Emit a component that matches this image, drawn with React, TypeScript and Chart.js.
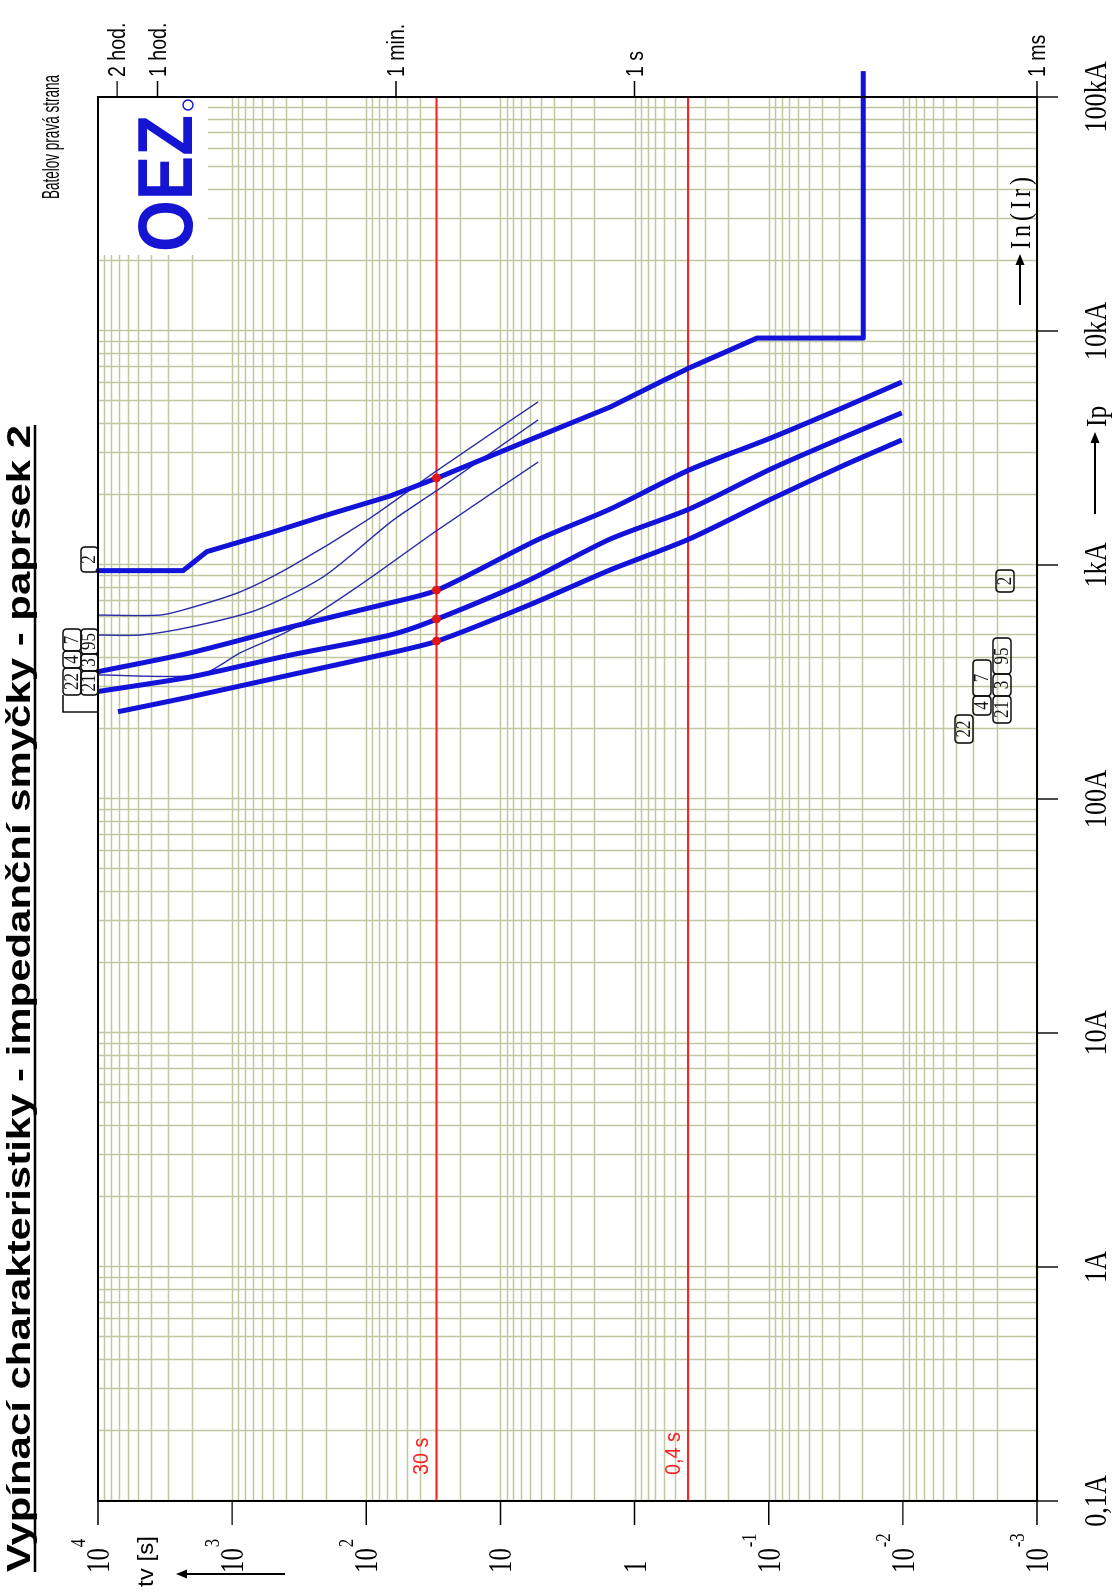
import React, { useEffect, useRef } from "react";
import { Chart, registerables } from "chart.js";

Chart.register(...registerables);

const CANVAS_W = 1595;
const CANVAS_H = 1112;

const titleText = "Vypínací charakteristiky - impedanční smyčky - paprsek 2";
const subtitleText = "Batelov pravá strana";
const logoText = "OEZ";
const timeAxisName = "tv [s]";
const peakLabel = "Ip";
const nominalLabel = "In(Ir)";

const currentMin = 0.1;
const currentMax = 100000;
const timeMin = 0.001;
const timeMax = 10000;

const currentTickValues = [0.1, 1, 10, 100, 1000, 10000, 100000];
const currentTickLabels = ["0,1A", "1A", "10A", "100A", "1kA", "10kA", "100kA"];

const timeTickValues = [10000, 1000, 100, 10, 1, 0.1, 0.01, 0.001];
const timeTickMantissa = ["10", "10", "10", "10", "1", "10", "10", "10"];
const timeTickExponent = ["4", "3", "2", "", "", "-1", "-2", "-3"];

const timeMarkValues = [7200, 3600, 60, 1, 0.001];
const timeMarkLabels = ["2 hod.", "1 hod.", "1 min.", "1 s", "1 ms"];

const limitTimes = [30, 0.4];
const limitLabels = ["30 s", "0,4 s"];

// curve "2" (thick, with short-time / instantaneous part)
const curve2Current = [946, 946, 990, 1050, 1140, 1371, 1652, 1972, 2355, 3420, 4730, 6050, 6950, 9330, 9330, 129000];
const curve2Time = [10000, 2323, 2100, 1850, 1545, 521, 186, 66.4, 29.6, 6.1, 1.52, 0.644, 0.392, 0.122, 0.0197, 0.0197];

// thin curves
const thin1Current = [611, 611, 655, 767, 980, 1556, 2547, 4980];
const thin1Time = [10000, 3452, 2061, 873, 370, 98.6, 29.3, 5.24];
const thin2Current = [502, 502, 543, 643, 889, 1556, 2094, 4170];
const thin2Time = [10000, 4864, 2061, 652, 210, 63, 29.3, 5.24];
const thin3Current = [339, 339, 421, 527, 805, 1413, 2754];
const thin3Time = [10000, 1734, 873, 370, 117, 29.3, 5.24];

// thick curves
const thickBCurrent = [350, 421, 543, 689, 781, 1291, 1734, 2547, 3524, 4730, 6050];
const thickBTime = [10000, 2061, 370, 66.4, 29.6, 5.14, 1.52, 0.392, 0.0925, 0.0273, 0.0102];
const thickCCurrent = [288, 332, 412, 502, 588, 863, 1291, 1734, 2600, 3524, 4467];
const thickCTime = [10000, 2061, 370, 66.4, 29.6, 6.1, 1.52, 0.392, 0.0925, 0.0273, 0.0102];
const thickDCurrent = [236, 273, 339, 421, 473, 675, 953, 1291, 1932, 2673, 3420];
const thickDTime = [7100, 2061, 370, 66.4, 29.6, 6.1, 1.52, 0.392, 0.0925, 0.0273, 0.0102];

// red markers where the thick curves meet the 30 s limit
const markerCurrent = [2355, 781, 588, 473];
const markerTime = [30, 30, 30, 30];

const GRID = "#bfc8a0";
const BLUE = "#1212d8";
const THIN = "#2b2ba6";
const RED = "#ff2020";

function pts(xs: number[], ys: number[]) {
  return xs.map((v, i) => ({ x: v, y: ys[i] }));
}

function txt(
  ctx: CanvasRenderingContext2D,
  s: string,
  x: number,
  y: number,
  font: string,
  color: string,
  align: "left" | "center" | "right" = "left",
  hs = 1,
  targetW?: number,
  spacing = 0
) {
  ctx.save();
  ctx.font = font;
  ctx.fillStyle = color;
  ctx.textBaseline = "alphabetic";
  ctx.textAlign = "left";
  if (spacing) (ctx as any).letterSpacing = spacing + "px";
  const w = ctx.measureText(s).width;
  const sc = targetW ? targetW / w : hs;
  const sw = w * sc;
  let x0 = x;
  if (align === "center") x0 = x - sw / 2;
  else if (align === "right") x0 = x - sw;
  ctx.translate(x0, y);
  ctx.scale(sc, 1);
  ctx.fillText(s, 0, 0);
  ctx.restore();
  return sw;
}

function arrow(ctx: CanvasRenderingContext2D, x1: number, y1: number, x2: number, y2: number) {
  const ang = Math.atan2(y2 - y1, x2 - x1);
  const L = 11, Hh = 4.5;
  ctx.save();
  ctx.strokeStyle = "#000";
  ctx.fillStyle = "#000";
  ctx.lineWidth = 2;
  ctx.beginPath();
  ctx.moveTo(x1, y1);
  ctx.lineTo(x2 - Math.cos(ang) * L * 0.8, y2 - Math.sin(ang) * L * 0.8);
  ctx.stroke();
  ctx.beginPath();
  ctx.moveTo(x2, y2);
  ctx.lineTo(x2 - Math.cos(ang) * L - Math.sin(ang) * Hh, y2 - Math.sin(ang) * L + Math.cos(ang) * Hh);
  ctx.lineTo(x2 - Math.cos(ang) * L + Math.sin(ang) * Hh, y2 - Math.sin(ang) * L - Math.cos(ang) * Hh);
  ctx.closePath();
  ctx.fill();
  ctx.restore();
}

function box(ctx: CanvasRenderingContext2D, s: string, x: number, y: number, w: number, h: number) {
  ctx.save();
  ctx.strokeStyle = "#111";
  ctx.lineWidth = 1.6;
  const r = 4;
  ctx.beginPath();
  ctx.moveTo(x + r, y);
  ctx.lineTo(x + w - r, y);
  ctx.quadraticCurveTo(x + w, y, x + w, y + r);
  ctx.lineTo(x + w, y + h - r);
  ctx.quadraticCurveTo(x + w, y + h, x + w - r, y + h);
  ctx.lineTo(x + r, y + h);
  ctx.quadraticCurveTo(x, y + h, x, y + h - r);
  ctx.lineTo(x, y + r);
  ctx.quadraticCurveTo(x, y, x + r, y);
  ctx.stroke();
  ctx.restore();
  txt(ctx, s, x + w / 2, y + h - 3, "20px 'Liberation Serif'", "#111", "center", 0.85);
}

const decorPlugin = {
  id: "oezDecor",
  beforeDatasetsDraw(chart: any) {
    const { ctx, chartArea: a, scales } = chart;
    const xs = scales.x, ys = scales.y;
    ctx.save();
    ctx.fillStyle = "#ffffff";
    ctx.fillRect(a.left, a.top, a.right - a.left, a.bottom - a.top);
    ctx.strokeStyle = GRID;
    ctx.lineWidth = 1.5;
    ctx.beginPath();
    for (let e = -1; e < 5; e++) {
      for (let m = 1; m < 10; m++) {
        const p = Math.round(xs.getPixelForValue(m * Math.pow(10, e))) + 0.5;
        ctx.moveTo(p, a.top);
        ctx.lineTo(p, a.bottom);
      }
    }
    for (let e = -3; e < 4; e++) {
      for (let m = 1; m < 10; m++) {
        const p = Math.round(ys.getPixelForValue(m * Math.pow(10, e))) + 0.5;
        ctx.moveTo(a.left, p);
        ctx.lineTo(a.right, p);
      }
    }
    ctx.stroke();
    // white field for the logo
    ctx.fillStyle = "#ffffff";
    ctx.fillRect(1340, a.top, a.right - 1340, 110);
    ctx.restore();
  },
  afterDatasetsDraw(chart: any) {
    const { ctx, chartArea: a, scales } = chart;
    const xs = scales.x, ys = scales.y;
    ctx.save();
    // frame
    ctx.strokeStyle = "#000";
    ctx.lineWidth = 2;
    ctx.strokeRect(a.left, a.top, a.right - a.left, a.bottom - a.top);
    // current ticks (bottom)
    ctx.beginPath();
    currentTickValues.forEach((v) => {
      const p = xs.getPixelForValue(v);
      ctx.moveTo(p, a.bottom);
      ctx.lineTo(p, a.bottom + 21);
    });
    // time ticks (left)
    timeTickValues.forEach((v) => {
      const p = ys.getPixelForValue(v);
      ctx.moveTo(a.left - 24, p);
      ctx.lineTo(a.left, p);
    });
    // time marks (right)
    timeMarkValues.forEach((v) => {
      const p = ys.getPixelForValue(v);
      ctx.moveTo(a.right, p);
      ctx.lineTo(a.right + 16, p);
    });
    // bracket from the upper label group to the lowest curve start
    ctx.lineWidth = 1.4;
    ctx.moveTo(900, 63);
    ctx.lineTo(883, 63);
    ctx.lineTo(883, a.top);
    ctx.stroke();
    ctx.restore();

    currentTickLabels.forEach((s, i) => {
      const p = xs.getPixelForValue(currentTickValues[i]);
      txt(ctx, s, p, a.bottom + 69, "32px 'Liberation Serif'", "#000", "center", 0.82);
    });
    timeTickValues.forEach((v, i) => {
      const p = ys.getPixelForValue(v);
      const w = txt(ctx, timeTickMantissa[i], 22, p + 11, "33px 'Liberation Serif'", "#000", "left", 0.75);
      if (timeTickExponent[i]) {
        txt(ctx, timeTickExponent[i], 22 + w + 1, p - 13, "21px 'Liberation Serif'", "#000", "left", 0.8);
      }
    });
    timeMarkValues.forEach((v, i) => {
      const p = ys.getPixelForValue(v);
      txt(ctx, timeMarkLabels[i], a.right + 20, p + 8, "23px 'Liberation Sans'", "#000", "left", 0.85);
    });
    limitTimes.forEach((v, i) => {
      const p = ys.getPixelForValue(v);
      txt(ctx, limitLabels[i], 120, p - 8, "22px 'Liberation Sans'", RED, "left", 0.9);
    });

    // title
    const tw = txt(ctx, titleText, 23, 30, "bold 33px 'Liberation Sans'", "#000", "left", 1, 1147);
    ctx.save();
    ctx.strokeStyle = "#000";
    ctx.lineWidth = 2.5;
    ctx.beginPath();
    ctx.moveTo(23, 35);
    ctx.lineTo(23 + tw, 35);
    ctx.stroke();
    ctx.restore();
    txt(ctx, subtitleText, 1396, 59, "24px 'Liberation Sans'", "#000", "left", 1, 124);

    // logo
    txt(ctx, logoText, 1343, 192, "bold 78px 'Liberation Sans'", "#1414d2", "left", 1, 137);
    ctx.save();
    ctx.strokeStyle = "#1414d2";
    ctx.lineWidth = 1.5;
    ctx.beginPath();
    ctx.arc(1490, 188, 5, 0, Math.PI * 2);
    ctx.stroke();
    ctx.restore();

    // axis names and arrows
    txt(ctx, timeAxisName, 8, 153, "22px 'Liberation Sans'", "#000", "left", 1, 51);
    arrow(ctx, 21, 285, 21, 176);
    arrow(ctx, 1081, 1095, 1163, 1095);
    txt(ctx, peakLabel, 1168, 1106, "30px 'Liberation Serif'", "#000", "left", 0.85);
    arrow(ctx, 1290, 1020, 1341, 1020);
    txt(ctx, nominalLabel, 1346, 1030, "30px 'Liberation Serif'", "#000", "left", 0.8, undefined, 5);

    // curve number boxes (top)
    box(ctx, "22", 900, 63, 27, 18);
    box(ctx, "4", 927, 63, 17, 18);
    box(ctx, "7", 944, 63, 22, 18);
    box(ctx, "21", 900, 81, 24, 17);
    box(ctx, "3", 924, 81, 17, 17);
    box(ctx, "95", 941, 81, 25, 17);
    box(ctx, "2", 1023, 81, 25, 17);
    // curve number boxes (bottom)
    box(ctx, "22", 852, 955, 28, 18);
    box(ctx, "4", 880, 973, 19, 18);
    box(ctx, "7", 899, 973, 36, 18);
    box(ctx, "21", 872, 993, 27, 18);
    box(ctx, "3", 899, 993, 22, 18);
    box(ctx, "95", 921, 993, 36, 18);
    box(ctx, "2", 1003, 996, 22, 18);
  },
};

export default function App() {
  const ref = useRef<HTMLCanvasElement | null>(null);
  useEffect(() => {
    if (!ref.current) return;
    document.body.style.background = "#ffffff";
    const line = (xs: number[], ys: number[], color: string, width: number, extra: any = {}) => ({
      data: pts(xs, ys),
      borderColor: color,
      backgroundColor: color,
      borderWidth: width,
      pointRadius: 0,
      showLine: true,
      fill: false,
      tension: 0.25,
      ...extra,
    });
    const chart = new Chart(ref.current, {
      type: "scatter",
      data: {
        datasets: [
          {
            data: pts(markerCurrent, markerTime),
            pointRadius: 4,
            pointBackgroundColor: "#e01818",
            pointBorderColor: "#e01818",
            showLine: false,
          } as any,
          line(curve2Current, curve2Time, BLUE, 5, { tension: 0, clip: false, borderJoinStyle: "round" }),
          line(thickBCurrent, thickBTime, BLUE, 5),
          line(thickCCurrent, thickCTime, BLUE, 5),
          line(thickDCurrent, thickDTime, BLUE, 5),
          line(thin1Current, thin1Time, THIN, 1.4),
          line(thin2Current, thin2Time, THIN, 1.4),
          line(thin3Current, thin3Time, THIN, 1.4),
          line([currentMin, currentMax], [limitTimes[0], limitTimes[0]], RED, 2, { tension: 0 }),
          line([currentMin, currentMax], [limitTimes[1], limitTimes[1]], RED, 2, { tension: 0 }),
        ],
      },
      options: {
        animation: false,
        responsive: false,
        devicePixelRatio: 1,
        layout: { padding: { left: 94, top: 98, right: CANVAS_W - 1498, bottom: CANVAS_H - 1037 } },
        plugins: { legend: { display: false }, tooltip: { enabled: false } },
        events: [],
        scales: {
          x: {
            type: "logarithmic",
            min: currentMin,
            max: currentMax,
            ticks: { display: false },
            grid: { display: false },
            border: { display: false },
            afterFit: (s: any) => {
              s.height = 0;
            },
          },
          y: {
            type: "logarithmic",
            min: timeMin,
            max: timeMax,
            ticks: { display: false },
            grid: { display: false },
            border: { display: false },
            afterFit: (s: any) => {
              s.width = 0;
            },
          },
        },
      } as any,
      plugins: [decorPlugin],
    });
    return () => chart.destroy();
  }, []);

  return (
    <div
      style={{
        position: "fixed",
        left: 0,
        top: 0,
        width: 1112,
        height: 1595,
        overflow: "hidden",
        background: "#ffffff",
      }}
    >
      <div
        style={{
          position: "absolute",
          left: 0,
          top: 0,
          width: CANVAS_W,
          height: CANVAS_H,
          transformOrigin: "0 0",
          transform: `translate(0px, ${CANVAS_W}px) rotate(-90deg)`,
        }}
      >
        <canvas ref={ref} width={CANVAS_W} height={CANVAS_H} style={{ width: CANVAS_W, height: CANVAS_H, display: "block" }} />
      </div>
    </div>
  );
}
